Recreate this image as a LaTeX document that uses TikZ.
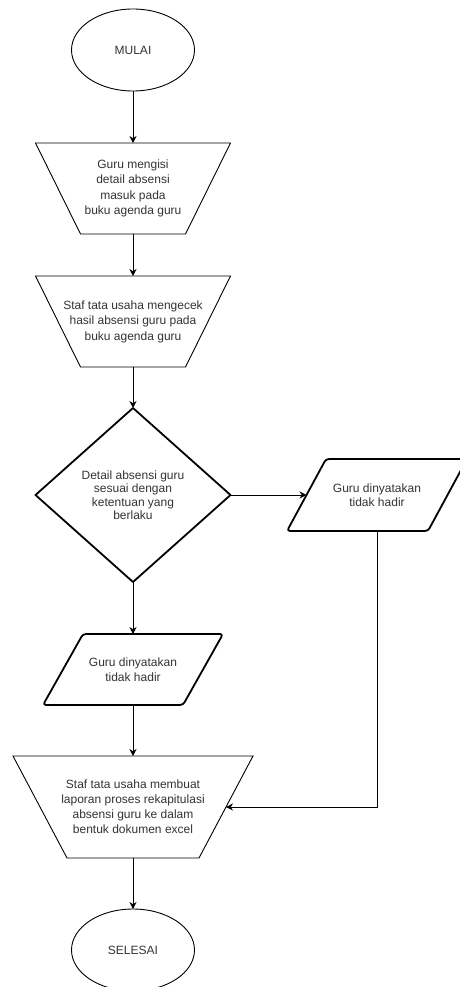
\documentclass[tikz,border=0pt]{standalone}
\usepackage{fontspec}
\setmainfont{Liberation Sans}
\usetikzlibrary{shapes.geometric,arrows.meta,calc}
\begin{document}
\begin{tikzpicture}[x=1pt,y=-1pt,
  txt/.style={font=\fontsize{12}{15.5}\selectfont, text=black!80, align=center, inner sep=0pt, outer sep=0pt},
  thin/.style={draw=black, line width=0.9pt},
  thick/.style={draw=black, line width=1.8pt, line join=round},
  arr/.style={draw=black, line width=0.9pt, -{Stealth[length=7pt,width=7pt]}}
]
\useasboundingbox (0,0) rectangle (460,987);
% start
\node[txt, ellipse, thin, minimum width=123pt, minimum height=82pt] (start) at (133,50) {MULAI};
% trapezoid 1
\node[txt, minimum width=195pt, minimum height=91pt] (t1) at (133,188.5)
  {Guru mengisi\\detail absensi\\masuk pada\\buku agenda guru};
\draw[thin] (t1.north west) -- (t1.north east) -- ([xshift=-45pt]t1.south east) -- ([xshift=45pt]t1.south west) -- cycle;
% trapezoid 2
\node[txt, minimum width=195pt, minimum height=91pt] (t2) at (133,321.5)
  {Staf tata usaha mengecek\\hasil absensi guru pada\\buku agenda guru};
\draw[thin] (t2.north west) -- (t2.north east) -- ([xshift=-45pt]t2.south east) -- ([xshift=45pt]t2.south west) -- cycle;
% decision
\node[txt, diamond, thick, minimum width=195pt, minimum height=174pt, font=\fontsize{12}{13.5}\selectfont] (d) at (133,495)
  {Detail absensi guru\\sesuai dengan\\ketentuan yang\\berlaku};
% lower parallelogram
\node[txt, minimum width=180pt, minimum height=71pt, font=\fontsize{12}{14.5}\selectfont] (p1) at (133,669.5)
  {Guru dinyatakan\\tidak hadir};
\draw[thick, rounded corners=3pt] (p1.north) -- (p1.north east) -- ([xshift=-40pt]p1.south east) -- (p1.south west) -- ([xshift=40pt]p1.north west) -- cycle;
% right parallelogram
\node[txt, minimum width=180pt, minimum height=72pt, font=\fontsize{12}{14.5}\selectfont] (p2) at (377,495)
  {Guru dinyatakan\\tidak hadir};
\draw[thick, rounded corners=3pt] (p2.north) -- (p2.north east) -- ([xshift=-39pt]p2.south east) -- (p2.south west) -- ([xshift=39pt]p2.north west) -- cycle;
% trapezoid 3
\node[txt, minimum width=240pt, minimum height=102pt, font=\fontsize{12}{15}\selectfont] (t3) at (133,807)
  {Staf tata usaha membuat\\laporan proses rekapitulasi\\absensi guru ke dalam\\bentuk dokumen excel};
\draw[thin] (t3.north west) -- (t3.north east) -- ([xshift=-54pt]t3.south east) -- ([xshift=54pt]t3.south west) -- cycle;
% end
\node[txt, ellipse, thin, minimum width=123pt, minimum height=82pt] (end) at (133,950) {SELESAI};
% connectors
\draw[arr] (start) -- (t1);
\draw[arr] (t1) -- (t2);
\draw[arr] (t2) -- (d);
\draw[arr] (d) -- (p1);
\draw[arr] (p1) -- (t3);
\draw[arr] (t3) -- (end);
\coordinate (p2in) at ([xshift=19.5pt]p2.west);
\draw[arr] (d.east) -- (p2in);
\coordinate (t3in) at ([xshift=-27pt]t3.east);
\draw[arr] (p2.south) |- (t3in);
\end{tikzpicture}
\end{document}
